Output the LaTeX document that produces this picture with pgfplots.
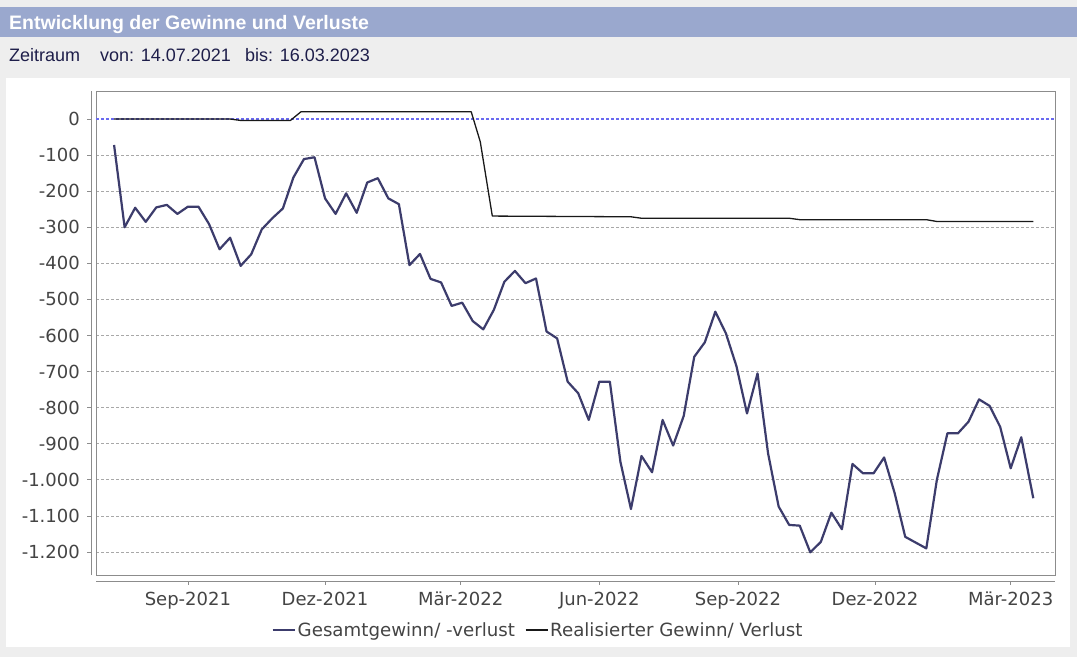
\documentclass[border=0pt]{standalone}
\usepackage{fontspec}
\setmainfont{Liberation Sans}
\newfontfamily\dejavu{DejaVu Sans}
\usepackage{pgfplots}
\usepackage{pgfplotstable}
\pgfplotsset{compat=1.18}
\definecolor{pagebg}{HTML}{EEEEEE}
\definecolor{headbar}{HTML}{9AA8CE}
\definecolor{navytext}{HTML}{1E1E4A}
\definecolor{gesamt}{HTML}{3C3C6C}
\definecolor{gridgray}{HTML}{A8A8A8}
\definecolor{zeroblue}{HTML}{6A6AF0}
\definecolor{boxgray}{HTML}{8C8C8C}
\definecolor{labelgray}{HTML}{444444}

% days since 14.07.2021
\pgfplotstableread{
day val
0 -72
7 -300
14 -246
21 -285
28 -245
35 -238
42 -263
49 -243
56 -243
63 -291
70 -361
77 -329
84 -407
91 -375
98 -306
105 -275
112 -248
119 -162
126 -111
133 -106
140 -220
147 -263
154 -206
161 -260
168 -176
175 -164
182 -220
189 -236
196 -405
203 -374
210 -443
217 -453
224 -518
231 -509
238 -560
245 -583
252 -529
259 -451
266 -421
273 -455
280 -442
287 -589
294 -608
301 -728
308 -760
315 -834
322 -728
329 -728
336 -950
343 -1081
350 -934
357 -979
364 -834
371 -905
378 -823
385 -659
392 -619
399 -534
406 -594
413 -685
420 -816
427 -705
434 -927
441 -1074
448 -1125
455 -1127
462 -1201
469 -1172
476 -1091
483 -1137
490 -956
497 -982
504 -982
511 -938
518 -1037
525 -1158
532 -1174
539 -1190
546 -1000
553 -871
560 -871
567 -839
574 -777
581 -795
588 -853
595 -968
602 -882
610 -1051
}\gesamttable

\pgfplotstableread{
day val
0 0
77 0
84 -4
117 -4
124 20
237 20
243 -63
251 -269
343 -271
350 -275
448 -275
455 -279
539 -279
546 -284
610 -284
}\realtable

\begin{document}
\begin{tikzpicture}
\fill[pagebg] (0,0) rectangle (1077pt,-657pt);
\path[use as bounding box] (0,0) rectangle (1077pt,-657pt);
\fill[headbar] (0pt,-7pt) rectangle (1077pt,-36.5pt);
\node[anchor=base west, inner sep=0pt, text=white, font=\fontsize{19.5}{23}\selectfont\bfseries] at (9pt,-29.3pt) {Entwicklung der Gewinne und Verluste};
\node[anchor=base west, inner sep=0pt, text=navytext, font=\fontsize{18}{22}\selectfont] at (9pt,-61pt) {Zeitraum};
\node[anchor=base west, inner sep=0pt, text=navytext, font=\fontsize{18}{22}\selectfont] at (100pt,-61pt) {von: 14.07.2021};
\node[anchor=base west, inner sep=0pt, text=navytext, font=\fontsize{18}{22}\selectfont] at (245pt,-61pt) {bis: 16.03.2023};
\fill[white] (6pt,-78pt) rectangle (1070pt,-647pt);
\begin{axis}[
  at={(96pt,-575pt)}, anchor=south west,
  scale only axis, width=959pt, height=484pt,
  xmin=-12, xmax=624.4, ymin=-1263.8, ymax=77.6,
  clip mode=individual,
  axis line style={boxgray, line width=1pt},
  xtick={49,140,230,322,414,505,595},
  xticklabels={Sep-2021,Dez-2021,Mär-2022,Jun-2022,Sep-2022,Dez-2022,Mär-2023},
  ytick={-1200,-1100,...,0},
  yticklabels={-1.200,-1.100,-1.000,-900,-800,-700,-600,-500,-400,-300,-200,-100,0},
  major tick length=0pt,
  tick label style={font=\dejavu\fontsize{18}{21}\selectfont, text=labelgray, inner sep=0pt},
  yticklabel style={anchor=east, xshift=-16pt},
  xticklabel style={anchor=north, yshift=-17pt},
  ymajorgrids,
  grid style={gridgray, dash pattern=on 2.5pt off 2.5pt, line width=0.8pt},
  legend style={at={(0.4609,-0.1136)}, anchor=center, draw=none, fill=none,
    font=\dejavu\fontsize{18.2}{21}\selectfont, text=labelgray,
    legend columns=2, /tikz/every even column/.append style={column sep=8pt}},
  legend image code/.code={\draw[#1] (0pt,0pt) -- (22pt,0pt);},
]
\draw[zeroblue, dash pattern=on 3pt off 2pt, line width=1.1pt] (axis cs:-12,0) -- (axis cs:624.4,0);
\addplot[gesamt, line width=2.2pt, line join=round] table[x=day, y=val] {\gesamttable};
\addlegendentry{Gesamtgewinn/ -verlust}
\addplot[black!90, line width=1.3pt, line join=round] table[x=day, y=val] {\realtable};
\addlegendentry{Realisierter Gewinn/ Verlust}
\draw[boxgray, line width=1pt] ([xshift=-5pt]rel axis cs:0,0) -- ([xshift=-5pt]rel axis cs:0,1);
\draw[boxgray, line width=1pt] ([yshift=-6pt]rel axis cs:0,0) -- ([yshift=-6pt]rel axis cs:1,0);
\pgfplotsinvokeforeach{-1200,-1100,...,0}{\draw[boxgray, line width=0.8pt] ([xshift=-5pt]axis cs:-12,#1) -- ++(-4pt,0pt);}
\pgfplotsinvokeforeach{49,140,230,322,414,505,595}{\draw[boxgray, line width=0.8pt] ([yshift=-6pt]axis cs:#1,-1263.8) -- ++(0pt,-4pt);}
\end{axis}
\end{tikzpicture}
\end{document}
